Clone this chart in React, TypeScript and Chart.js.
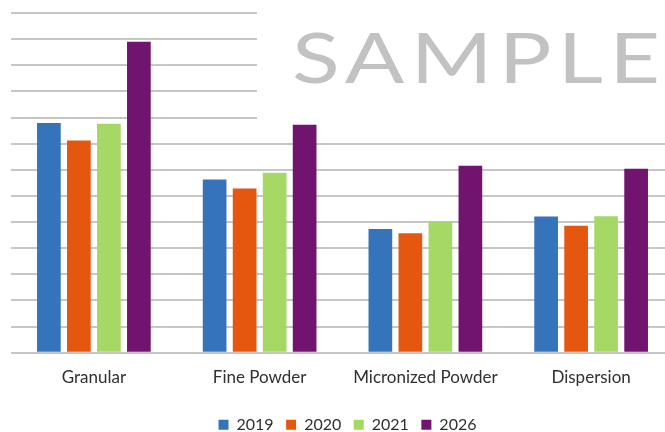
import React, { useEffect, useRef } from "react";
import { Chart, registerables } from "chart.js";

Chart.register(...registerables);

const categories = ["Granular", "Fine Powder", "Micronized Powder", "Dispersion"];
const seriesNames = ["2019", "2020", "2021", "2026"];
const values2019 = [8.79, 6.63, 4.73, 5.21];
const values2020 = [8.12, 6.28, 4.57, 4.86];
const values2021 = [8.76, 6.89, 5.04, 5.22];
const values2026 = [11.9, 8.72, 7.15, 7.04];
const seriesColors = ["#3573BA", "#E5560F", "#A6D866", "#711470"];
const watermarkText = "SAMPLE";

const watermarkPlugin = {
  id: "watermark",
  afterLayout(chart: any) {
    if (chart.legend) {
      chart.legend.left += 5;
      chart.legend.right += 5;
    }
  },
  beforeDatasetsDraw(chart: any) {
    const ctx = chart.ctx;
    ctx.save();
    ctx.fillStyle = "#ffffff";
    ctx.fillRect(257, 0, chart.width - 257, 121);
    ctx.font = "70px Lato";
    (ctx as any).letterSpacing = "5px";
    const w = ctx.measureText(watermarkText).width - 5;
    const target = 368;
    ctx.translate(292, 83);
    ctx.scale(target / w, 1);
    ctx.fillStyle = "#c2c2c2";
    ctx.textBaseline = "alphabetic";
    ctx.textAlign = "left";
    ctx.fillText(watermarkText, 0, 0);
    ctx.restore();
  },
};

export default function App() {
  const ref = useRef<HTMLCanvasElement>(null);
  useEffect(() => {
    if (!ref.current) return;
    const allValues = [values2019, values2020, values2021, values2026];
    const chart = new Chart(ref.current, {
      type: "bar",
      data: {
        labels: categories,
        datasets: seriesNames.map((name, i) => ({
          label: name,
          data: allValues[i],
          backgroundColor: seriesColors[i],
          borderWidth: 0,
          categoryPercentage: 0.724,
          barPercentage: 0.79,
        })),
      },
      options: {
        animation: false,
        responsive: false,
        maintainAspectRatio: false,
        layout: { padding: { left: 11, right: 19, top: 13, bottom: -10.8 } },
        plugins: {
          tooltip: { enabled: false },
          legend: {
            position: "bottom",
            labels: {
              boxWidth: 10,
              boxHeight: 10,
              padding: 12.5,
              color: "#303030",
              font: { family: "Lato", size: 16 },
            },
          },
        },
        scales: {
          x: {
            grid: { display: false },
            border: { display: false },
            ticks: {
              color: "#303030",
              font: { family: "Lato", size: 17 },
              padding: 6.5,
              maxRotation: 0,
            },
            afterFit: (scale: any) => {
              scale.height = 51.6;
            },
          },
          y: {
            min: 0,
            max: 13,
            ticks: { display: false, stepSize: 1 },
            border: { display: false },
            grid: { color: "#c6c6c6", lineWidth: 2, drawTicks: false },
          },
        },
      },
      plugins: [watermarkPlugin],
    });
    return () => chart.destroy();
  }, []);
  return (
    <div style={{ position: "fixed", left: 0, top: 0, width: 665, height: 432, overflow: "hidden", background: "#fff" }}>
      <canvas ref={ref} width={693} height={432} style={{ display: "block" }} />
    </div>
  );
}
